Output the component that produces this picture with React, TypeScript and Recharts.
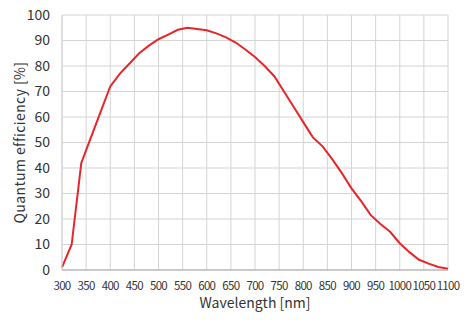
import { LineChart, Line, XAxis, YAxis, CartesianGrid, Label } from "recharts";

const wavelengths = [
  300, 320, 340, 360, 380, 400, 420, 440, 460, 480, 500, 520, 540, 560, 580,
  600, 620, 640, 660, 680, 700, 720, 740, 760, 780, 800, 820, 840, 860, 880,
  900, 920, 940, 960, 980, 1000, 1020, 1040, 1060, 1080, 1100,
];
const efficiency = [
  1, 10, 42, 52, 62, 72, 77, 81, 85, 88, 90.5, 92.3, 94.2, 95, 94.5,
  94, 92.8, 91.2, 89.2, 86.5, 83.5, 80, 76, 70, 64, 58, 52, 48.5, 43.5, 38,
  32, 27, 21.5, 18, 15, 10.5, 7, 4, 2.5, 1.2, 0.5,
];
const xTicks = [
  300, 350, 400, 450, 500, 550, 600, 650, 700, 750, 800, 850, 900, 950, 1000,
  1050, 1100,
];
const yTicks = [0, 10, 20, 30, 40, 50, 60, 70, 80, 90, 100];

const data = wavelengths.map((w, i) => ({ w, qe: efficiency[i] }));

const font = "'Noto Sans CJK JP', 'Noto Sans', sans-serif";

export default function App() {
  return (
    <div style={{ position: "absolute", left: 0, top: 0, background: "#fff" }}>
      <LineChart
        width={470}
        height={323}
        data={data}
        margin={{ top: 15, right: 22, bottom: 0, left: 0 }}
      >
        <CartesianGrid stroke="#d4d4d4" strokeWidth={1} />
        <XAxis
          dataKey="w"
          type="number"
          domain={[300, 1100]}
          ticks={xTicks}
          interval={0}
          height={53}
          tickLine={false}
          axisLine={{ stroke: "#aaa" }}
          tickMargin={6}
          tick={{ fill: "#333", fontSize: 11.5, fontFamily: font, letterSpacing: -0.7 }}
        >
          <Label
            value="Wavelength [nm]"
            position="insideBottom"
            offset={15}
            style={{ fill: "#333", fontSize: 14, fontFamily: font }}
          />
        </XAxis>
        <YAxis
          type="number"
          domain={[0, 100]}
          ticks={yTicks}
          interval={0}
          width={62}
          tickLine={false}
          axisLine={{ stroke: "#d4d4d4" }}
          tickMargin={6}
          tick={{ fill: "#333", fontSize: 14, fontFamily: font }}
        >
          <Label
            value="Quantum efficiency [%]"
            angle={-90}
            position="insideLeft"
            offset={20}
            style={{ fill: "#333", fontSize: 14, fontFamily: font, letterSpacing: 0.4, textAnchor: "middle" }}
          />
        </YAxis>
        <Line
          dataKey="qe"
          type="linear"
          stroke="#e8262a"
          strokeWidth={2}
          dot={false}
          isAnimationActive={false}
        />
      </LineChart>
    </div>
  );
}
